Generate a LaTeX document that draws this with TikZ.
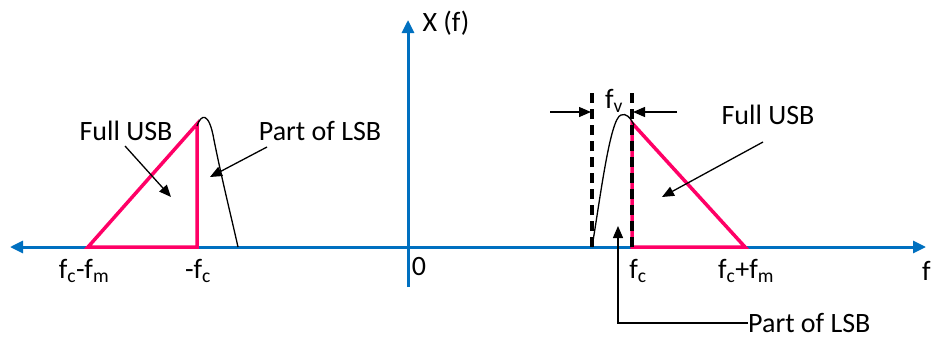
\documentclass[tikz,border=0pt]{standalone}
\usepackage{fontspec}
\setmainfont{Carlito}
\usetikzlibrary{arrows.meta}
\definecolor{axisblue}{RGB}{0,112,192}
\definecolor{sbpink}{RGB}{255,0,102}
\begin{document}
\begin{tikzpicture}[x=1pt,y=-1pt,
 axis/.style={draw=axisblue, line width=3pt, -{Triangle[length=13pt,width=12pt]}},
 band/.style={draw=sbpink, line width=3.5pt, line join=miter},
 spec/.style={draw=black, line width=1.3pt},
 pointer/.style={draw=black, line width=1.3pt, -{Triangle[length=12pt,width=10pt]}},
 marker/.style={draw=black, line width=3.4pt, dash pattern=on 10pt off 6pt},
 lbl/.style={font=\fontsize{28}{32}\selectfont, text=black, inner sep=0pt},
]
\useasboundingbox (0,0) rectangle (931,340);
% axes
\coordinate (o) at (408,247);
\coordinate (xl) at (10,247);
\coordinate (xr) at (926,247);
\coordinate (yb) at (408,287);
\coordinate (yt) at (408,20);
\draw[axis] (o) -- (xr);
\draw[axis] (o) -- (xl);
\draw[axis] (yb) -- (yt);
% left band
\coordinate (la) at (88,247);
\coordinate (lb) at (197,124);
\coordinate (lc) at (197,247);
\draw[band] (lc) -- (la) -- (lb) -- cycle;
% right band
\coordinate (ra) at (632,123);
\coordinate (rb) at (745,247);
\coordinate (rc) at (632,247);
\draw[band] (rc) -- (rb) -- (ra) -- cycle;
% dashed markers
\coordinate (d1b) at (592,247);
\coordinate (d1t) at (592,88);
\coordinate (d2b) at (632,247);
\coordinate (d2t) at (632,88);
\draw[marker] (d1b) -- (d1t);
\draw[marker] (d2b) -- (d2t);
% spectra curves
\draw[spec] (197,126) .. controls (201,114) and (209,111) .. (214,140)
  .. controls (222,180) and (232,220) .. (238,247);
\draw[spec] (d1b) .. controls (600,200) and (610,118) .. (621,115)
  .. controls (626,113) and (630,117) .. (634,125);
% f_v arrows
\coordinate (fvl0) at (550,112);
\coordinate (fvl1) at (591,112);
\coordinate (fvr0) at (677,112);
\coordinate (fvr1) at (633,112);
\draw[pointer] (fvl0) -- (fvl1);
\draw[pointer] (fvr0) -- (fvr1);
\node[lbl] (fv) at (614,101) {f\textsubscript{v}};
% labels
\node[lbl] (xf) at (446,23) {X (f)};
\node[lbl] (zero) at (419,267) {0};
\node[lbl] (fcmfm) at (84,271) {f\textsubscript{c}-f\textsubscript{m}};
\node[lbl] (mfc) at (198,271) {-f\textsubscript{c}};
\node[lbl] (fc) at (638,271) {f\textsubscript{c}};
\node[lbl] (fcpfm) at (746,271) {f\textsubscript{c}+f\textsubscript{m}};
\node[lbl, anchor=west] (f) at (922,271) {f};
% left annotations
\node[lbl] (usbL) at (126,131) {Full USB};
\coordinate (usbLtip) at (171,197);
\draw[pointer] (125,146) -- (usbLtip);
\node[lbl] (lsbL) at (320,131) {Part of LSB};
\coordinate (lsbLtip) at (210,177);
\draw[pointer] (267,147) -- (lsbLtip);
% right annotations
\node[lbl] (usbR) at (768,115) {Full USB};
\coordinate (usbRtip) at (662,197);
\draw[pointer] (763,142) -- (usbRtip);
\node[lbl, anchor=west] (lsbR) at (748,323) {Part of LSB};
\coordinate (lsbRtip) at (618,226);
\draw[pointer] (lsbR.west) -| (lsbRtip);
\end{tikzpicture}
\end{document}
